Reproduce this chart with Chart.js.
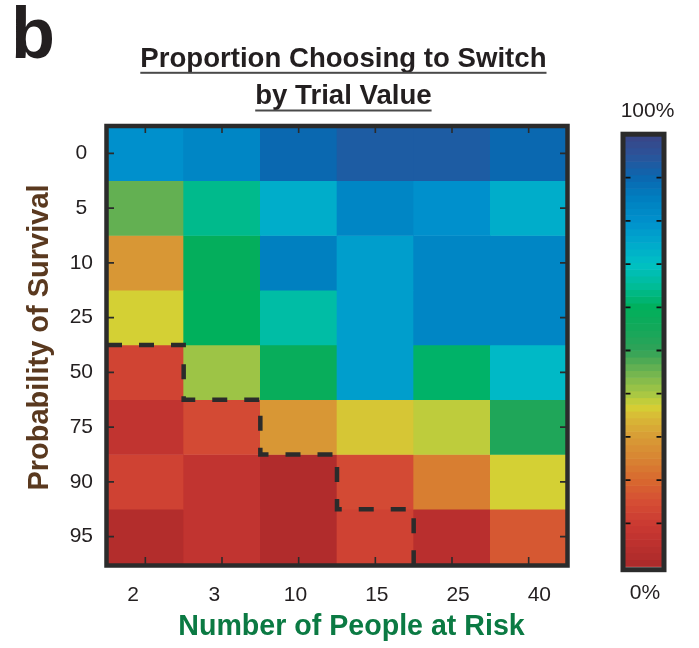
<!DOCTYPE html>
<html><head><meta charset="utf-8">
<script src="https://cdn.jsdelivr.net/npm/chart.js@4/dist/chart.umd.min.js"></script>
<style>html,body{margin:0;padding:0;background:#fff;}canvas{display:block}</style>
</head><body>
<canvas id="c" width="699" height="648"></canvas>
<script>
// ---------- data ----------
const peopleAtRisk = ['2', '3', '10', '15', '25', '40'];
const survivalProb = ['0', '5', '10', '25', '50', '75', '90', '95'];
// proportion choosing to switch, one array per survival-probability row
const switchAt0  = [0.80, 0.83, 0.90, 0.93, 0.93, 0.90];
const switchAt5  = [0.46, 0.64, 0.74, 0.83, 0.80, 0.74];
const switchAt10 = [0.29, 0.59, 0.85, 0.77, 0.83, 0.83];
const switchAt25 = [0.37, 0.60, 0.665, 0.77, 0.83, 0.83];
const switchAt50 = [0.125, 0.41, 0.58, 0.77, 0.61, 0.715];
const switchAt75 = [0.07, 0.14, 0.29, 0.36, 0.385, 0.53];
const switchAt90 = [0.12, 0.07, 0.02, 0.14, 0.24, 0.37];
const switchAt95 = [0.025, 0.07, 0.02, 0.12, 0.045, 0.17];
const switchRows = [switchAt0, switchAt5, switchAt10, switchAt25, switchAt50, switchAt75, switchAt90, switchAt95];
// dashed boundary (column-index / row-index coordinates)
const boundaryX = [-0.5, 0.5, 0.5, 1.5, 1.5, 2.5, 2.5, 3.5, 3.5];
const boundaryY = [4, 4, 5, 5, 6, 6, 7, 7, 8];
const colorbarLabels = ['0%', '100%'];

// ---------- colour map ----------
const cmapStops = [
  [0.00, '#aa2a2a'], [0.05, '#bb302e'], [0.10, '#cb3a32'], [0.15, '#d54e34'], [0.20, '#d8682f'],
  [0.25, '#d88432'], [0.30, '#d89c36'], [0.35, '#d8bc36'], [0.37, '#d4d034'], [0.40, '#a8c844'],
  [0.45, '#70b450'], [0.50, '#30a258'], [0.55, '#14a85a'], [0.60, '#00b05c'], [0.65, '#00bc98'],
  [0.70, '#00c0c4'], [0.75, '#00a8cc'], [0.80, '#0090cc'], [0.85, '#0080c0'], [0.90, '#0a68b0'],
  [0.95, '#2a549a'], [1.00, '#3a4486']
];
function hexRgb(h) { return [parseInt(h.slice(1,3),16), parseInt(h.slice(3,5),16), parseInt(h.slice(5,7),16)]; }
function cmap(v) {
  v = Math.max(0, Math.min(1, v));
  for (let i = 1; i < cmapStops.length; i++) {
    if (v <= cmapStops[i][0]) {
      const [a, ca] = cmapStops[i-1], [b, cb] = cmapStops[i];
      const t = (v - a) / (b - a);
      const A = hexRgb(ca), B = hexRgb(cb);
      return 'rgb(' + A.map((x, k) => Math.round(x + (B[k] - x) * t)).join(',') + ')';
    }
  }
  return cmapStops[cmapStops.length-1][1];
}

const INK = '#231f20';
const FRAME = '#2b2b2b';

// ---------- datasets ----------
const cellSets = switchRows.map((row, r) => ({
  type: 'bar',
  label: survivalProb[r],
  data: peopleAtRisk.map(() => [r, r + 1]),
  backgroundColor: row.map(v => cmap(v)),
  borderWidth: 0,
  grouped: false,
  barPercentage: 1,
  categoryPercentage: 1,
  xAxisID: 'x',
  yAxisID: 'y',
  order: 2
}));
const boundarySet = {
  type: 'line',
  label: 'boundary',
  data: boundaryX.map((x, i) => ({ x: x, y: boundaryY[i] })),
  borderColor: FRAME,
  borderWidth: 4.5,
  borderDash: [15, 17],
  borderCapStyle: 'butt',
  borderJoinStyle: 'miter',
  pointRadius: 0,
  tension: 0,
  fill: false,
  xAxisID: 'xl',
  yAxisID: 'y',
  order: 0
};

// ---------- decorations ----------
const decor = {
  id: 'decor',
  afterDraw(chart) {
    const ctx = chart.ctx;
    const ca = chart.chartArea;
    const xs = chart.scales.x, ys = chart.scales.y;
    ctx.save();
    // panel letter
    ctx.fillStyle = INK;
    ctx.font = 'bold 72px "Liberation Sans", Arial, sans-serif';
    ctx.textAlign = 'left'; ctx.textBaseline = 'alphabetic';
    ctx.fillText('b', 11, 58);
    // title with underline
    ctx.font = 'bold 27.6px "Liberation Sans", Arial, sans-serif';
    ctx.textAlign = 'center';
    const tlines = [['Proportion Choosing to Switch', 66.7, 71.8], ['by Trial Value', 104, 109.5]];
    tlines.forEach(([t, yb, yu]) => {
      ctx.fillStyle = INK;
      ctx.fillText(t, 343.4, yb);
      const w = ctx.measureText(t).width;
      ctx.fillStyle = '#4a4a4a';
      ctx.fillRect(343.4 - w / 2, yu, w, 2);
    });
    // axis titles
    ctx.font = 'bold 29px "Liberation Sans", Arial, sans-serif';
    ctx.fillStyle = '#5a391f';
    ctx.save();
    ctx.translate(47.7, 337.5);
    ctx.rotate(-Math.PI / 2);
    ctx.textAlign = 'center';
    ctx.fillText('Probability of Survival', 0, 0);
    ctx.restore();
    ctx.font = 'bold 28.6px "Liberation Sans", Arial, sans-serif';
    ctx.fillStyle = '#0b7a43';
    ctx.textAlign = 'center';
    ctx.fillText('Number of People at Risk', 351.5, 635);
    // frame
    ctx.strokeStyle = FRAME;
    ctx.lineWidth = 4.5;
    ctx.strokeRect(ca.left - 0.5, ca.top, ca.right - ca.left + 1, ca.bottom - ca.top + 1.5);
    // inner ticks
    ctx.lineWidth = 1.6;
    ctx.beginPath();
    peopleAtRisk.forEach((_, i) => {
      const px = xs.getPixelForValue(i);
      ctx.moveTo(px, ca.bottom); ctx.lineTo(px, ca.bottom - 7);
      ctx.moveTo(px, ca.top); ctx.lineTo(px, ca.top + 7);
    });
    survivalProb.forEach((_, i) => {
      const py = ys.getPixelForValue(i + 0.5);
      ctx.moveTo(ca.left, py); ctx.lineTo(ca.left + 7, py);
      ctx.moveTo(ca.right, py); ctx.lineTo(ca.right - 7, py);
    });
    ctx.stroke();
    // colour bar
    const cbL = 623.5, cbR = 663.5, cbTop = 134.4, cbBot = 566.6;
    const steps = 64;
    for (let k = 0; k < steps; k++) {
      const v = (k + 0.5) / steps;
      const y1 = cbBot - (k + 1) / steps * (cbBot - cbTop);
      const y0 = cbBot - k / steps * (cbBot - cbTop);
      ctx.fillStyle = cmap(v);
      ctx.fillRect(cbL, y1 - 0.3, cbR - cbL, y0 - y1 + 0.6);
    }
    ctx.strokeStyle = FRAME;
    ctx.lineWidth = 5;
    ctx.strokeRect(cbL - 0.5, 134.2, cbR - cbL + 1, 435.5);
    ctx.lineWidth = 1.8;
    ctx.strokeStyle = '#111';
    ctx.beginPath();
    for (let k = 1; k < 10; k++) {
      const py = cbBot - k / 10 * (cbBot - cbTop);
      ctx.moveTo(cbL + 2, py); ctx.lineTo(cbL + 7, py);
      ctx.moveTo(cbR - 2, py); ctx.lineTo(cbR - 7, py);
    }
    ctx.stroke();
    ctx.fillStyle = INK;
    ctx.font = '21px "Liberation Sans", Arial, sans-serif';
    ctx.textAlign = 'center';
    ctx.textBaseline = 'middle';
    ctx.fillText(colorbarLabels[1], 647.5, 111);
    ctx.fillText(colorbarLabels[0], 645, 593);
    ctx.restore();
  }
};

const tickFont = { family: '"Liberation Sans", Arial, sans-serif', size: 21 };

new Chart(document.getElementById('c'), {
  type: 'bar',
  data: { labels: peopleAtRisk, datasets: [...cellSets, boundarySet] },
  options: {
    responsive: false,
    devicePixelRatio: 1,
    animation: false,
    events: [],
    layout: { padding: { left: 0, top: 126, right: 132, bottom: 0 } },
    plugins: { legend: { display: false }, tooltip: { enabled: false }, title: { display: false } },
    scales: {
      x: { type: 'category', display: false, offset: true },
      xl: { type: 'linear', display: false, offset: false, min: -0.5, max: 5.5 },
      xt: {
        type: 'linear', position: 'bottom', offset: false, min: -0.32, max: 5.34,
        afterBuildTicks: s => { s.ticks = peopleAtRisk.map((_, i) => ({ value: i })); },
        afterFit: s => { s.height = 84; },
        grid: { display: false }, border: { display: false },
        ticks: { padding: 11, maxRotation: 0, autoSkip: false, font: tickFont, color: INK,
                 callback: (v, i) => peopleAtRisk[i] }
      },
      y: {
        type: 'linear', position: 'left', reverse: true, min: 0, max: 8,
        afterBuildTicks: s => { s.ticks = survivalProb.map((_, i) => ({ value: i + 0.5 })); },
        afterFit: s => { s.width = 107; },
        grid: { display: false }, border: { display: false },
        ticks: { crossAlign: 'center', padding: 6, autoSkip: false, font: tickFont, color: INK,
                 callback: (v, i) => survivalProb[i] }
      }
    }
  },
  plugins: [decor]
});
</script>
</body></html>
